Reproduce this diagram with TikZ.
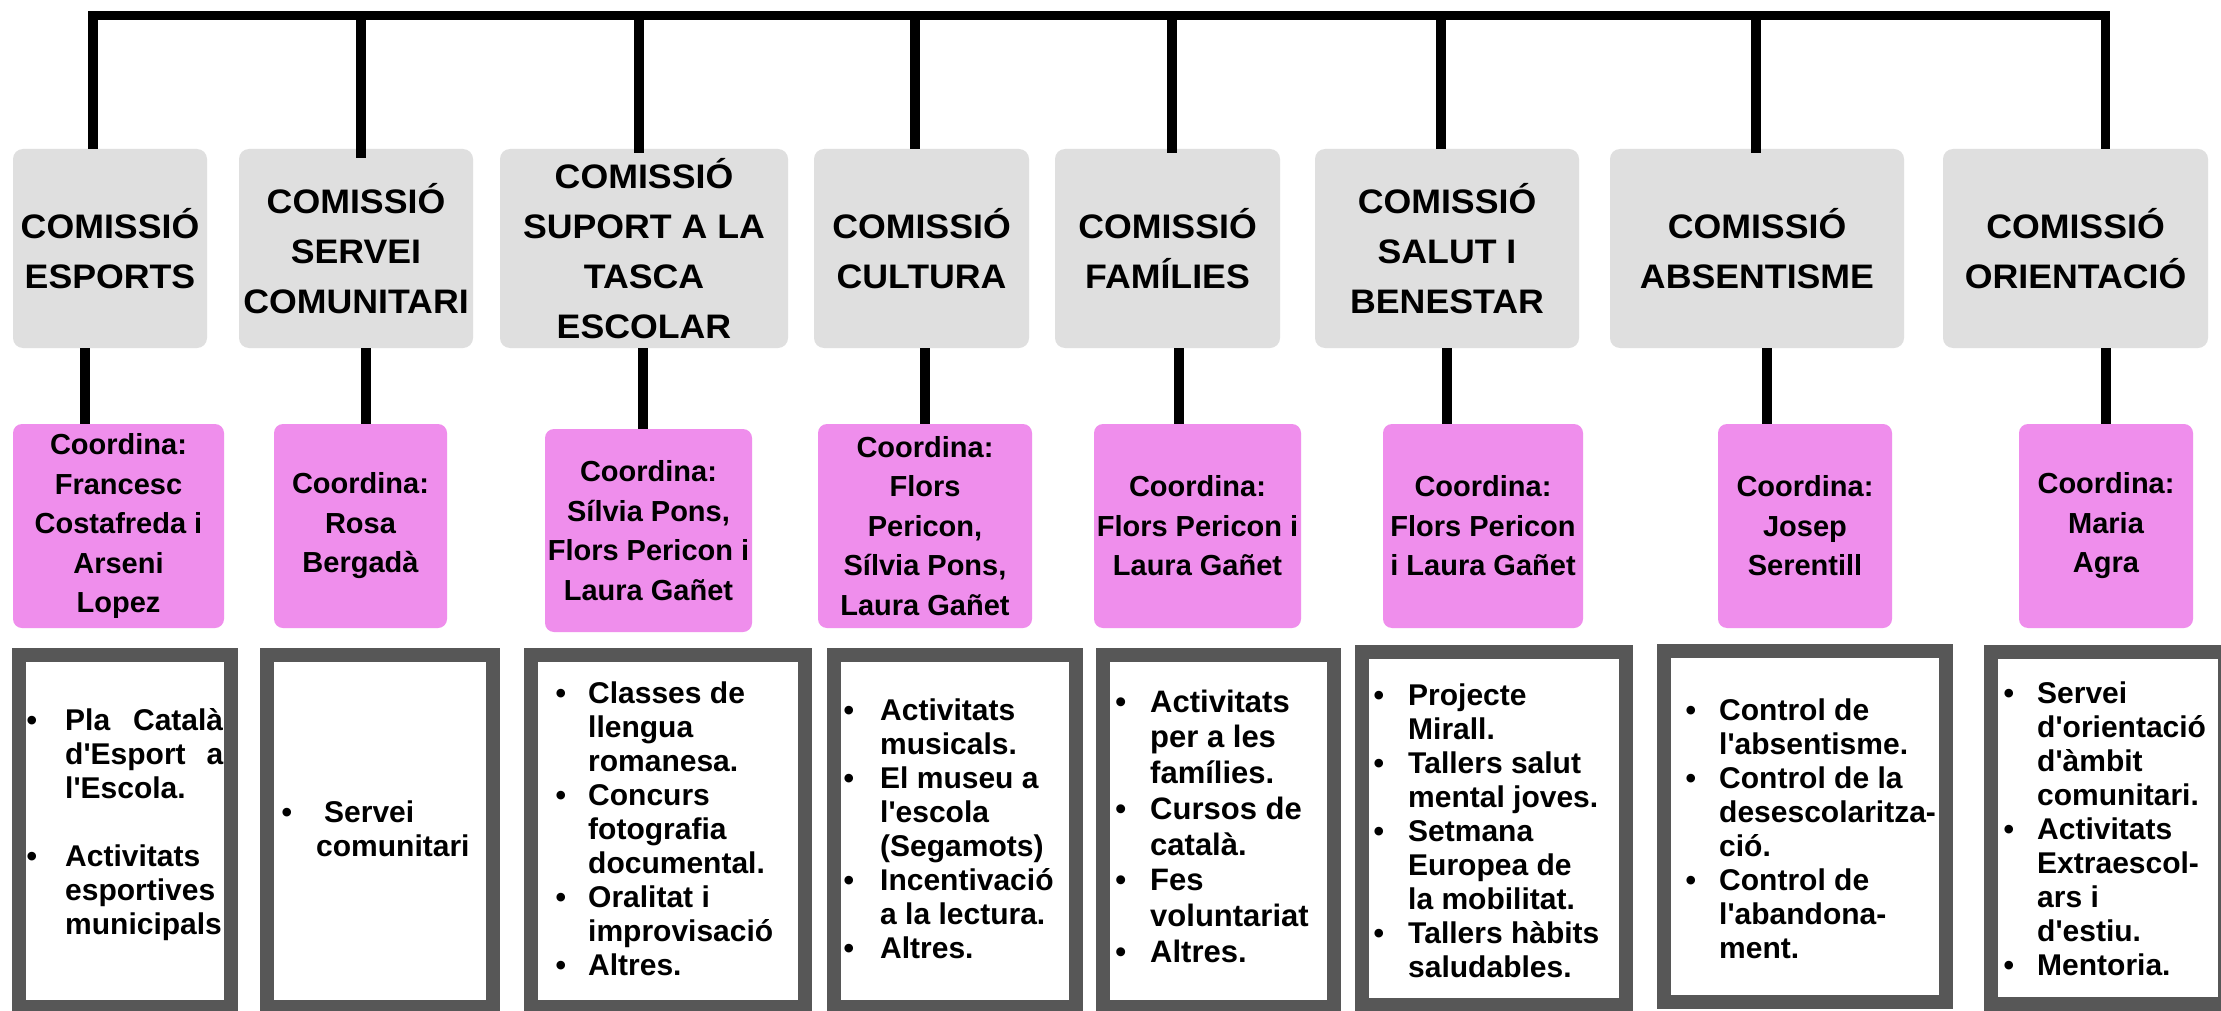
\documentclass[tikz,border=0pt]{standalone}
\usepackage{fontspec}
\setmainfont{Liberation Sans}
\newfontfamily\lsans{Liberation Sans}
\newfontfamily\ttlfont[FakeStretch=1.05]{Liberation Sans}
\usetikzlibrary{calc}
\definecolor{boxgrey}{RGB}{223,223,223}
\definecolor{pinkbox}{RGB}{239,142,236}
\definecolor{framegrey}{RGB}{87,87,87}
\newcommand{\itm}[1]{\llap{•\hspace{#1pt}}}
\tikzset{
  titlebox/.style={fill=boxgrey, rounded corners=10pt, inner sep=0pt, align=center,
    font=\ttlfont\bfseries\fontsize{34}{50}\selectfont},
  coordbox/.style={fill=pinkbox, rounded corners=9pt, inner sep=0pt, align=center,
    font=\lsans\bfseries\fontsize{29}{39.5}\selectfont,
    execute at begin node={\rule{0pt}{27pt}}},
  framebox/.style={draw=framegrey, line width=14pt, fill=white, inner sep=0pt},
  listtext/.style={anchor=north west, inner sep=0pt, align=left,
    font=\lsans\bfseries\fontsize{30}{34}\selectfont},
  conn/.style={line width=9.5pt, draw=black},
}
\begin{document}
\begin{tikzpicture}[x=1pt,y=-1pt]
\clip (0,0) rectangle (2221,1011);
\fill[white] (0,0) rectangle (2221,1011);

% grey commission boxes
\node[titlebox, minimum width=194pt, minimum height=199pt] (g1) at (110,248.5) {COMISSIÓ\\ESPORTS};
\node[titlebox, minimum width=234pt, minimum height=199pt] (g2) at (356,248.5) {COMISSIÓ\\SERVEI\\COMUNITARI};
\node[titlebox, minimum width=288pt, minimum height=199pt] (g3) at (644,248.5) {COMISSIÓ\\SUPORT A LA\\TASCA\\ESCOLAR};
\node[titlebox, minimum width=215pt, minimum height=199pt] (g4) at (921.5,248.5) {COMISSIÓ\\CULTURA};
\node[titlebox, minimum width=225pt, minimum height=199pt] (g5) at (1167.5,248.5) {COMISSIÓ\\FAMÍLIES};
\node[titlebox, minimum width=264pt, minimum height=199pt] (g6) at (1447,248.5) {COMISSIÓ\\SALUT I\\BENESTAR};
\node[titlebox, minimum width=294pt, minimum height=199pt] (g7) at (1757,248.5) {COMISSIÓ\\ABSENTISME};
\node[titlebox, minimum width=265pt, minimum height=199pt] (g8) at (2075.5,248.5) {COMISSIÓ\\ORIENTACIÓ};

% pink coordinator boxes
\node[coordbox, minimum width=211pt, minimum height=204pt] (p1) at (118.5,526) {Coordina:\\Francesc\\Costafreda i\\Arseni\\Lopez};
\node[coordbox, minimum width=173pt, minimum height=204pt] (p2) at (360.5,526) {Coordina:\\Rosa\\Bergadà};
\node[coordbox, minimum width=207pt, minimum height=203pt] (p3) at (648.5,530.5) {Coordina:\\Sílvia Pons,\\Flors Pericon i\\Laura Gañet};
\node[coordbox, minimum width=214pt, minimum height=204pt] (p4) at (925,526) {Coordina:\\Flors\\Pericon,\\Sílvia Pons,\\Laura Gañet};
\node[coordbox, minimum width=207pt, minimum height=204pt] (p5) at (1197.5,526) {Coordina:\\Flors Pericon i\\Laura Gañet};
\node[coordbox, minimum width=200pt, minimum height=204pt] (p6) at (1483,526) {Coordina:\\Flors Pericon\\i Laura Gañet};
\node[coordbox, minimum width=174pt, minimum height=204pt] (p7) at (1805,526) {Coordina:\\Josep\\Serentill};
\node[coordbox, minimum width=174pt, minimum height=204pt] (p8) at (2106,526) {Coordina:\\Maria\\Agra};

% framed activity boxes
\node[framebox, minimum width=212pt, minimum height=352.5pt] (b1) at (125,830.75) {};
\node[framebox, minimum width=225.5pt, minimum height=352.5pt] (b2) at (379.75,830.75) {};
\node[framebox, minimum width=274pt, minimum height=352.5pt] (b3) at (668,830.75) {};
\node[framebox, minimum width=242pt, minimum height=352.5pt] (b4) at (955,830.75) {};
\node[framebox, minimum width=231pt, minimum height=352.5pt] (b5) at (1218.5,830.75) {};
\node[framebox, minimum width=264.5pt, minimum height=353pt] (b6) at (1493.75,828.5) {};
\node[framebox, minimum width=282pt, minimum height=351.5pt] (b7) at (1805,826.25) {};
\node[framebox, minimum width=234pt, minimum height=352pt] (b8) at (2108,828) {};

% list texts
\node[listtext] (l1t) at (65,706.2) {\strut\itm{28}\makebox[158pt][s]{Pla\hfill Català}\\
  \makebox[158pt][s]{d'Esport\hfill a}\\
  l'Escola.\\[34pt]
  \itm{28}Activitats\\
  esportives\\
  municipals};
\node[listtext] (l2t) at (316,798.2) {\strut\itm{24}\hspace*{8pt}Servei\\
  comunitari};
\node[listtext] (l3t) at (588,679.2) {\strut\itm{22}Classes de\\
  llengua\\
  romanesa.\\
  \itm{22}Concurs\\
  fotografia\\
  documental.\\
  \itm{22}Oralitat i\\
  improvisació\\
  \itm{22}Altres.};
\node[listtext] (l4t) at (880,696.2) {\strut\itm{26}Activitats\\
  musicals.\\
  \itm{26}El museu a\\
  l'escola\\
  (Segamots)\\
  \itm{26}Incentivació\\
  a la lectura.\\
  \itm{26}Altres.};
\node[listtext, font=\lsans\bfseries\fontsize{31}{35.7}\selectfont] (l5t) at (1150,687) {\strut\itm{24}Activitats\\
  per a les\\
  famílies.\\
  \itm{24}Cursos de\\
  català.\\
  \itm{24}Fes\\
  voluntariat\\
  \itm{24}Altres.};
\node[listtext] (l6t) at (1408,681.2) {\strut\itm{24}Projecte\\
  Mirall.\\
  \itm{24}Tallers salut\\
  mental joves.\\
  \itm{24}Setmana\\
  Europea de\\
  la mobilitat.\\
  \itm{24}Tallers hàbits\\
  saludables.};
\node[listtext] (l7t) at (1719,696.2) {\strut\itm{23}Control de\\
  l'absentisme.\\
  \itm{23}Control de la\\
  desescolaritza-\\
  ció.\\
  \itm{23}Control de\\
  l'abandona-\\
  ment.};
\node[listtext] (l8t) at (2037,679.2) {\strut\itm{23}Servei\\
  d'orientació\\
  d'àmbit\\
  comunitari.\\
  \itm{23}Activitats\\
  Extraescol-\\
  ars i\\
  d'estiu.\\
  \itm{23}Mentoria.};

% top bracket connectors
\coordinate (t1) at (93,15.5);
\coordinate (t2) at (361,15.5);
\coordinate (t3) at (639,15.5);
\coordinate (t4) at (915,15.5);
\coordinate (t5) at (1172,15.5);
\coordinate (t6) at (1441,15.5);
\coordinate (t7) at (1756,15.5);
\coordinate (t8) at (2105.5,15.5);
\draw[conn, line join=miter] (t1 |- g1.north) -- (t1) -- (t8) -- (t8 |- g8.north);
\draw[conn] (t2) -- ($(t2 |- g2.north)+(0,9)$);
\draw[conn] (t3) -- ($(t3 |- g3.north)+(0,4)$);
\draw[conn] (t4) -- (t4 |- g4.north);
\draw[conn] (t5) -- ($(t5 |- g5.north)+(0,4)$);
\draw[conn] (t6) -- (t6 |- g6.north);
\draw[conn] (t7) -- ($(t7 |- g7.north)+(0,4)$);

% grey to pink connectors
\coordinate (c1) at (85,390);
\coordinate (c2) at (366,390);
\coordinate (c3) at (643,390);
\coordinate (c4) at (925,390);
\coordinate (c5) at (1179,390);
\coordinate (c6) at (1447,390);
\coordinate (c7) at (1767,390);
\coordinate (c8) at (2106,390);
\draw[conn] (c1 |- g1.south) -- (c1 |- p1.north);
\draw[conn] (c2 |- g2.south) -- (c2 |- p2.north);
\draw[conn] (c3 |- g3.south) -- (c3 |- p3.north);
\draw[conn] (c4 |- g4.south) -- (c4 |- p4.north);
\draw[conn] (c5 |- g5.south) -- (c5 |- p5.north);
\draw[conn] (c6 |- g6.south) -- (c6 |- p6.north);
\draw[conn] (c7 |- g7.south) -- (c7 |- p7.north);
\draw[conn] (c8 |- g8.south) -- (c8 |- p8.north);
\end{tikzpicture}
\end{document}
